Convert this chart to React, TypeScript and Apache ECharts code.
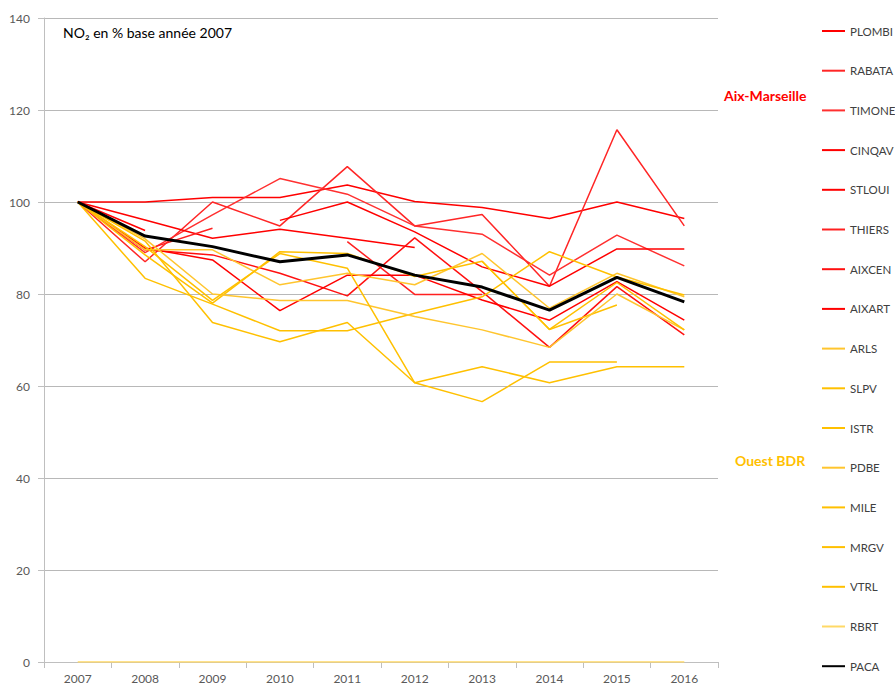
import React, { useEffect, useRef } from "react";
import * as echarts from "echarts";

const years = ["2007", "2008", "2009", "2010", "2011", "2012", "2013", "2014", "2015", "2016"];

const PLOMBI = [100, 100, 101, 101, 103.7, 100.1, 98.8, 96.4, 100, 96.4];
const RABATA = [100, 87, 100, 94.8, 107.7, 94.8, 97.3, 81.7, 115.7, 94.8];
const TIMONE = [100, 89, 97.2, 105.1, 101.7, 94.8, 93.0, 84.1, 92.8, 86.1];
const CINQAV = [100, 93.8, null, 96, 100, 93.5, 85.9, 81.7, 89.8, 89.8];
const STLOUI = [100, 96.1, 92.1, 94.1, 92.1, 90.1, null, null, null, null];
const THIERS = [100, 89.6, 94.3, null, 91.4, 79.9, 79.9, null, null, null];
const AIXCEN = [100, 89.6, 88.5, 84.5, 79.6, 92.2, 80.5, 68.4, 81.6, 71.1];
const AIXART = [100, 90, 87.4, 76.4, 84.1, 84.1, 78.7, 74.3, 82.7, 74.3];

const ARLS = [100, 89.6, 89.6, 82, 84.5, 82, 88.8, 76.9, 84.5, 79.4];
const SLPV = [100, 88.5, 78, 89.2, 88.8, 83.8, 87.1, 72.3, 77.6, null];
const ISTR = [100, 83.4, 77.8, 72, 72, 75.8, 79.4, 89.2, 83.7, 79.8];
const PDBE = [100, 92, 80, 78.6, 78.6, 75.1, 72.2, 68.4, 80.0, 72.2];
const MILE = [100, 91.5, 73.8, 69.6, 73.8, 60.7, 64.2, 60.7, 64.2, 64.2];
const MRGV = [100, 90.3, 78.6, 88.8, 85.6, 60.7, 56.6, 65.2, 65.2, null];
const VTRL = [null, null, null, null, null, null, 87.1, 72.3, 82.5, 72.2];
const RBRT = [0, 0, 0, 0, 0, 0, 0, 0, 0, 0];

const PACA = [100, 92.6, 90.3, 87.0, 88.5, 84.1, 81.5, 76.5, 83.6, 78.3];

const seriesDefs: [string, (number | null)[], string, number][] = [
  ["PLOMBI", PLOMBI, "#FF0000", 1.5],
  ["RABATA", RABATA, "#FF2626", 1.5],
  ["TIMONE", TIMONE, "#FF3030", 1.5],
  ["CINQAV", CINQAV, "#FF0000", 1.5],
  ["STLOUI", STLOUI, "#FF0000", 1.5],
  ["THIERS", THIERS, "#FF2020", 1.5],
  ["AIXCEN", AIXCEN, "#FF1010", 1.5],
  ["AIXART", AIXART, "#FF0000", 1.5],
  ["ARLS", ARLS, "#FFC52E", 1.5],
  ["SLPV", SLPV, "#FFC000", 1.5],
  ["ISTR", ISTR, "#FFC000", 1.5],
  ["PDBE", PDBE, "#FFC52E", 1.5],
  ["MILE", MILE, "#FFC000", 1.5],
  ["MRGV", MRGV, "#FFC000", 1.5],
  ["VTRL", VTRL, "#FFC000", 1.5],
  ["RBRT", RBRT, "#FFD966", 1.5],
  ["PACA", PACA, "#000000", 3],
];

const FONT = "Lato, 'Noto Sans', sans-serif";

export default function App() {
  const ref = useRef<HTMLDivElement>(null);
  useEffect(() => {
    if (!ref.current) return;
    const chart = echarts.init(ref.current, undefined, { renderer: "svg" });
    chart.setOption({
      animation: false,
      textStyle: { fontFamily: FONT },
      grid: { left: 44, right: 177, top: 18, bottom: 22 },
      legend: {
        orient: "vertical",
        left: 822,
        top: 24,
        padding: 0,
        icon: "rect",
        itemWidth: 23,
        itemHeight: 2,
        itemGap: 25.7,
        textStyle: { fontSize: 11.5, color: "#404040", fontFamily: FONT, lineHeight: 14 },
        data: seriesDefs.map((d) => d[0]),
      },
      xAxis: {
        type: "category",
        data: years,
        boundaryGap: true,
        axisLine: { lineStyle: { color: "#BFBFBF", width: 1 } },
        axisTick: { show: true, length: 6, lineStyle: { color: "#BFBFBF" } },
        axisLabel: { color: "#595959", fontSize: 12, margin: 10, fontFamily: FONT },
      },
      yAxis: {
        type: "value",
        min: 0,
        max: 140,
        interval: 20,
        axisLine: { show: true, lineStyle: { color: "#BFBFBF", width: 1 } },
        axisTick: { show: true, length: 6, lineStyle: { color: "#BFBFBF" } },
        axisLabel: { color: "#595959", fontSize: 12, margin: 14, fontFamily: FONT },
        splitLine: { lineStyle: { color: "#B8B8B8", width: 1 } },
      },
      series: seriesDefs.map(([name, data, color, w]) => ({
        name,
        type: "line",
        data,
        symbol: "none",
        connectNulls: false,
        lineStyle: { color, width: w },
        itemStyle: { color },
        z: name === "PACA" ? 5 : 2,
      })),
      graphic: [
        {
          type: "text",
          left: 63,
          top: 25,
          style: { text: "NO₂ en % base année 2007", fontSize: 14, fill: "#000", fontFamily: FONT },
        },
        {
          type: "text",
          left: 724,
          top: 88,
          style: { text: "Aix-Marseille", fontSize: 14, fontWeight: "bold", fill: "#FF0000", fontFamily: FONT },
        },
        {
          type: "text",
          left: 735,
          top: 453,
          style: { text: "Ouest BDR", fontSize: 14, fontWeight: "bold", fill: "#FFC000", fontFamily: FONT },
        },
      ],
    });
    return () => chart.dispose();
  }, []);
  return <div ref={ref} style={{ width: 895, height: 684, position: "absolute", left: 0, top: 0 }} />;
}
